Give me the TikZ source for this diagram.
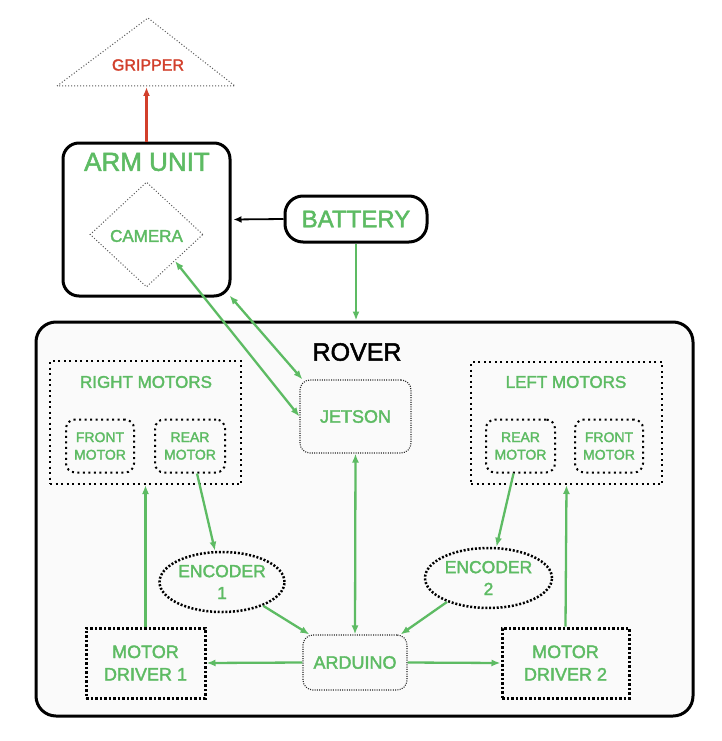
\documentclass[tikz,border=0pt]{standalone}
\usepackage{fontspec}
\setmainfont{Liberation Sans}[FakeBold=2]
\usetikzlibrary{arrows.meta,shapes.geometric,calc}
\definecolor{grn}{HTML}{5DBB63}
\definecolor{rd}{HTML}{D23F2B}
\begin{document}
\begin{tikzpicture}[x=1pt,y=-1pt,
  fs/.style={font=\fontsize{#1}{#1}\linespread{1.25}\selectfont},
  gtext/.style={text=grn,align=center,inner sep=0},
  solidbox/.style={draw=black,line width=3pt,rounded corners=16pt,inner sep=0},
  thindot/.style={draw=black!65,line width=1pt,dash pattern=on 1pt off 2pt},
  finedot/.style={draw=black!85,line width=1.1pt,dash pattern=on 1pt off 1.3pt,rounded corners=10pt},
  groupdot/.style={draw=black,line width=2pt,dash pattern=on 2pt off 3.5pt},
  motordot/.style={draw=black,line width=2pt,dash pattern=on 2pt off 3.5pt,rounded corners=9pt},
  drvdot/.style={draw=black,line width=3pt,dash pattern=on 2.5pt off 2pt},
  encdot/.style={draw=black,ellipse,line width=2.5pt,dash pattern=on 2pt off 1.8pt,inner sep=0},
  garrow/.style={draw=grn,line width=2.3pt,-{Latex[length=9pt,width=7pt]}},
  gdarrow/.style={draw=grn,line width=2.3pt,{Latex[length=9pt,width=7pt]}-{Latex[length=9pt,width=7pt]}},
]
\useasboundingbox (0,0) rectangle (721,741);
\fill[white] (0,0) rectangle (721,741);

% Gripper
\draw[thindot] (57,86) -- (148,18) -- (235,86) -- cycle;
\coordinate (gripbase) at (146.5,87);
\node[text=rd,fs=16,inner sep=0] (grip) at (148,65) {GRIPPER};

% Arm unit
\node[solidbox,minimum width=167,minimum height=153] (arm) at (146.5,219.5) {};
\node[gtext,fs=26] (armlbl) at (147,162) {ARM UNIT};
\node[thindot,diamond,minimum width=113,minimum height=105,inner sep=0] (cam) at (146.5,234.5) {};
\node[gtext,fs=17] (camlbl) at (146.5,236) {CAMERA};

% Battery
\node[solidbox,rounded corners=18pt,minimum width=142,minimum height=46,gtext,fs=24] (bat) at (356,219) {BATTERY};

% Rover
\node[solidbox,rounded corners=20pt,fill=black!2,minimum width=657,minimum height=394] (rover) at (364.5,519) {};
\node[inner sep=0,fs=25] (roverlbl) at (357,352) {ROVER};

% Right motors
\node[groupdot,minimum width=191,minimum height=123] (rm) at (145.5,422.5) {};
\node[gtext,fs=17] (rmlbl) at (146,382) {RIGHT MOTORS};
\node[motordot,minimum width=68,minimum height=53,gtext,fs=14] (rfront) at (100,446) {FRONT\\MOTOR};
\node[motordot,minimum width=70,minimum height=53,gtext,fs=14] (rrear) at (190,446) {REAR\\MOTOR};

% Left motors
\node[groupdot,minimum width=191,minimum height=122] (lm) at (566.5,423) {};
\node[gtext,fs=17] (lmlbl) at (566,382) {LEFT MOTORS};
\node[motordot,minimum width=69,minimum height=53,gtext,fs=14] (lrear) at (520.5,446) {REAR\\MOTOR};
\node[motordot,minimum width=68,minimum height=53,gtext,fs=14] (lfront) at (609,446) {FRONT\\MOTOR};

% Jetson
\node[finedot,minimum width=111,minimum height=73,gtext,fs=18] (jet) at (355.5,416.5) {JETSON};

% Encoders
\node[encdot,minimum width=125,minimum height=60,gtext,fs=17.5] (enc1) at (222,582) {ENCODER\\1};
\node[encdot,minimum width=127,minimum height=60,gtext,fs=17.5] (enc2) at (488.5,578) {ENCODER\\2};

% Drivers and Arduino
\node[drvdot,minimum width=119,minimum height=70,gtext,fs=18] (md1) at (145.5,663) {MOTOR\\DRIVER 1};
\node[drvdot,minimum width=127,minimum height=70,gtext,fs=18] (md2) at (565.5,663) {MOTOR\\DRIVER 2};
\node[finedot,minimum width=104,minimum height=55,gtext,fs=18] (ard) at (355,662.5) {ARDUINO};

% Connectors
\draw[draw=rd,line width=2.3pt,-{Latex[length=9pt,width=7pt]}] (arm.north) -- (gripbase);
\draw[draw=black,line width=1.8pt,-{Latex[length=8pt,width=7pt]}] (bat.west) -- ([xshift=2pt]arm.east);
\draw[garrow] (bat.south) -- (bat.south |- rover.north);
\draw[gdarrow] (cam.south east) -- (jet.west);
\draw[gdarrow] ([shift={(-2,-2)}]arm.south east) -- ([xshift=3pt]jet.north west);
\draw[gdarrow] (jet.south) -- (ard.north);
\draw[garrow] (md1.north) -- (rm.south);
\draw[garrow] (md2.north) -- (lm.south);
\draw[garrow] ([xshift=7pt]rrear.south) -- ([xshift=-7pt]enc1.north);
\draw[garrow] ([xshift=-7pt]lrear.south) -- ([xshift=8pt]enc2.north);
\draw[garrow] (enc1.-30) -- ([xshift=7pt]ard.north west);
\draw[garrow] (enc2.-150) -- ([xshift=-7pt]ard.north east);
\draw[garrow] (ard.west) -- (md1.east);
\draw[garrow] (ard.east) -- (md2.west);
\end{tikzpicture}
\end{document}
